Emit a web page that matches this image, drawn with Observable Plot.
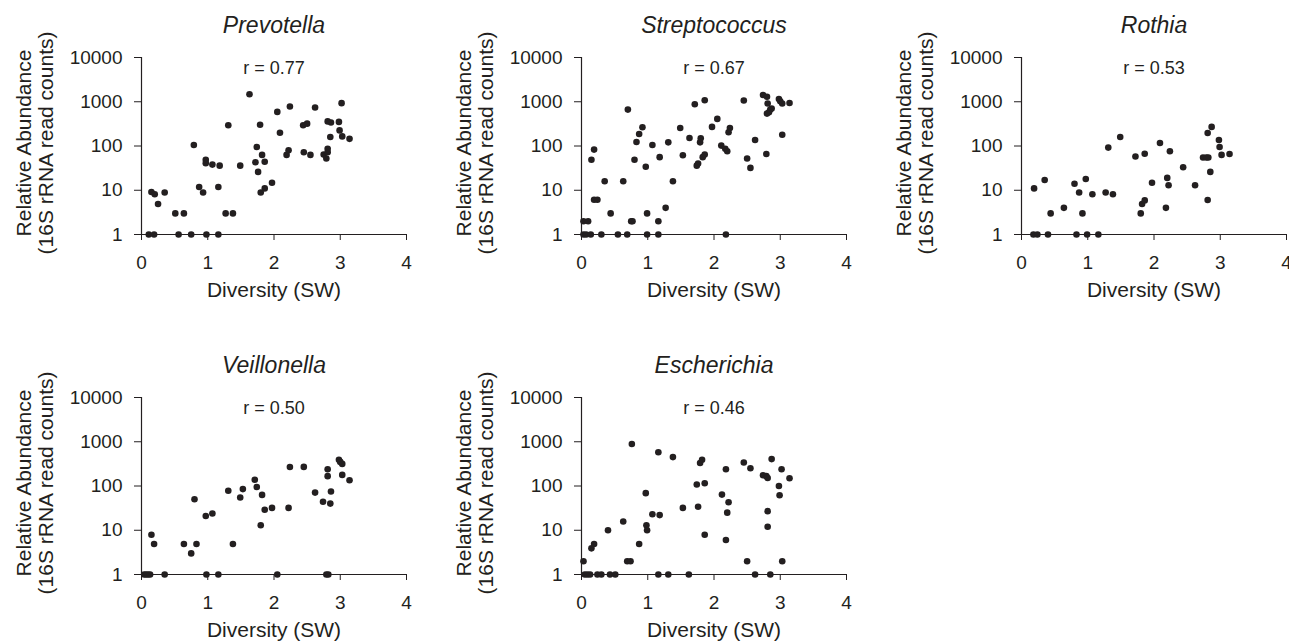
<!DOCTYPE html>
<html>
<head>
<meta charset="utf-8">
<script src="https://cdn.jsdelivr.net/npm/d3@7"></script>
<script src="https://cdn.jsdelivr.net/npm/@observablehq/plot@0.6"></script>
<style>
html, body { margin: 0; padding: 0; background: #fff; overflow: hidden; width: 1289px; height: 642px; }
#chart { position: relative; width: 1289px; height: 642px; background: #fff; }
.panel { position: absolute; }
.panel svg { max-width: none; overflow: visible; display: block; }
</style>
</head>
<body>
<div id="chart"></div>
<script>
// ---- data ----
const genera = ["Prevotella", "Streptococcus", "Rothia", "Veillonella", "Escherichia"];
const rValues = ["0.77", "0.67", "0.53", "0.50", "0.46"];
const xTicks = [0, 1, 2, 3, 4];
const yTicks = [1, 10, 100, 1000, 10000];
const xLabel = "Diversity (SW)";
const yLabel = "Relative Abundance\n(16S rRNA read counts)";

const prevotellaX = [0.11,0.19,0.56,0.75,0.98,1.16,
  0.15,0.20,0.25,0.35,0.51,0.64,0.79,0.87,0.93,0.97,0.97,1.07,1.18,1.16,1.27,1.38,1.31,1.49,1.63,1.72,1.74,1.76,1.79,1.82,1.86,1.80,1.86,1.97,2.05,2.09,2.24,2.19,2.22,2.44,2.50,2.45,2.55,2.62,2.75,2.79,2.81,2.81,2.81,2.86,2.85,2.98,2.99,3.02,3.03,3.14];
const prevotellaY = [1,1,1,1,1,1,
  9.1,8.1,4.9,8.9,3,3,105,11.8,8.9,49,41,38,36,11.8,3,3,295,36,1480,43,95,26,303,63,44,8.9,11,14.8,590,200,780,63,80,295,320,72,63,740,64,52,87,72,360,340,160,350,225,930,165,145];

const streptococcusX = [0.03,0.07,0.14,0.30,0.55,0.69,0.99,1.16,2.18,
  0.03,0.10,0.19,0.24,0.15,0.19,0.35,0.44,0.63,0.70,0.75,0.77,0.80,0.83,0.87,0.92,0.97,0.99,1.07,1.16,1.18,1.27,1.31,1.38,1.49,1.53,1.63,1.71,1.74,1.76,1.79,1.80,1.83,1.86,1.86,1.97,2.05,2.11,2.17,2.20,2.22,2.24,2.45,2.50,2.55,2.62,2.74,2.80,2.81,2.80,2.83,2.85,2.87,2.79,2.98,3.00,3.03,3.14,3.03];
const streptococcusY = [1,1,1,1,1,1,1,1,1,
  2,2,6.1,6.1,49,83,16,3,16,665,2,2,49,123,187,265,34,3,105,2,56,4,121,16,256,62,152,880,36,40,121,150,56,64,1080,270,410,102,87,76,204,256,1070,52,32,137,1420,1300,910,540,580,665,700,66,1150,1030,910,940,180];

const rothiaX = [0.18,0.24,0.40,0.83,0.99,1.16,
  0.19,0.35,0.44,0.64,0.80,0.87,0.92,0.97,1.07,1.27,1.31,1.38,1.49,1.72,1.80,1.82,1.86,1.86,1.97,2.09,2.18,2.20,2.22,2.24,2.44,2.62,2.74,2.79,2.82,2.81,2.81,2.87,2.85,2.98,2.99,3.02,3.14];
const rothiaY = [1,1,1,1,1,1,
  11,17,3,4,14,8.9,3,18,8.1,8.9,92,8.1,160,58,3,4.9,5.9,67,14.8,117,4,19,13,76,33,13,55,55,55,6,197,270,26,137,95,63,66];

const veillonellaX = [0.04,0.07,0.10,0.13,0.35,0.98,1.16,2.05,2.79,2.82,
  0.15,0.19,0.64,0.75,0.83,0.80,0.97,1.07,1.31,1.38,1.49,1.53,1.71,1.74,1.82,1.80,1.86,1.97,2.22,2.24,2.45,2.62,2.74,2.85,2.86,2.81,2.81,2.98,3.00,3.03,3.03,3.14];
const veillonellaY = [1,1,1,1,1,1,1,1,1,1,
  7.9,4.9,4.9,3,4.9,50,21,24,78,4.9,55,85,138,95,63,13,29,32,32,268,270,71,44,40,75,167,240,390,350,316,178,135];

const escherichiaX = [0.05,0.09,0.13,0.24,0.30,0.43,0.51,1.16,1.31,1.62,2.62,2.85,
  0.03,0.15,0.19,0.40,0.63,0.69,0.74,0.76,0.87,0.97,0.98,0.99,1.07,1.16,1.18,1.38,1.53,1.74,1.76,1.79,1.82,1.86,1.86,2.12,2.18,2.18,2.20,2.22,2.45,2.50,2.55,2.74,2.79,2.81,2.81,2.81,2.87,2.98,2.99,3.02,3.03,3.14];
const escherichiaY = [1,1,1,1,1,1,1,1,1,1,1,1,
  2,3.9,4.9,10,15.8,2,2,890,4.9,69,13,10,23,580,22,450,32,108,34,330,390,115,7.9,64,6,240,25,43,340,2,252,175,167,152,27,12,405,100,62,240,2,150];

const seriesX = [prevotellaX, streptococcusX, rothiaX, veillonellaX, escherichiaX];
const seriesY = [prevotellaY, streptococcusY, rothiaY, veillonellaY, escherichiaY];

// ---- layout ----
const INK = "#231f20";
const FONT = "'Liberation Sans', Arial, Helvetica, sans-serif";
const colLeft = [0, 440, 880];
const rowTop = [0, 340];
const fmt = d => String(d);

const chart = document.getElementById("chart");

genera.forEach((name, i) => {
  const data = seriesX[i].map((x, j) => ({x, y: seriesY[i][j]}));
  const svg = Plot.plot({
    width: 440,
    height: 310,
    marginLeft: 141,
    marginRight: 34,
    marginTop: 57,
    marginBottom: 76,
    style: {fontFamily: FONT, fontSize: "19px", color: INK, background: "#fff", overflow: "visible"},
    x: {domain: [0, 4], label: null},
    y: {type: "log", domain: [1, 10000], label: null},
    marks: [
      Plot.axisX({ticks: xTicks, tickFormat: fmt, tickSize: 6, tickPadding: 15, fontSize: 19, label: null}),
      Plot.axisY({ticks: yTicks, tickFormat: fmt, tickSize: 7, tickPadding: 12, fontSize: 19, label: null}),
      Plot.ruleX([0], {stroke: INK, strokeWidth: 1.2}),
      Plot.ruleY([1], {stroke: INK, strokeWidth: 1.2}),
      Plot.text([name], {text: d => d, frameAnchor: "top", lineAnchor: "middle", dy: -32, fontSize: 23, fontStyle: "italic", fill: INK}),
      Plot.text([`r = ${rValues[i]}`], {text: d => d, frameAnchor: "top", lineAnchor: "middle", dy: 10.5, fontSize: 18, fill: INK}),
      Plot.text([xLabel], {text: d => d, frameAnchor: "bottom", lineAnchor: "middle", dy: 56, fontSize: 21, fill: INK}),
      Plot.text([yLabel], {text: d => d, frameAnchor: "left", textAnchor: "middle", lineAnchor: "middle", rotate: -90, dx: -107, dy: -3, fontSize: 21, lineHeight: 1.05, fill: INK}),
      Plot.dot(data, {x: "x", y: "y", r: 3.3, fill: INK, stroke: "none"})
    ]
  });
  const div = document.createElement("div");
  div.className = "panel";
  div.style.left = colLeft[i % 3] + "px";
  div.style.top = rowTop[Math.floor(i / 3)] + "px";
  div.appendChild(svg);
  chart.appendChild(div);
});
</script>
</body>
</html>
